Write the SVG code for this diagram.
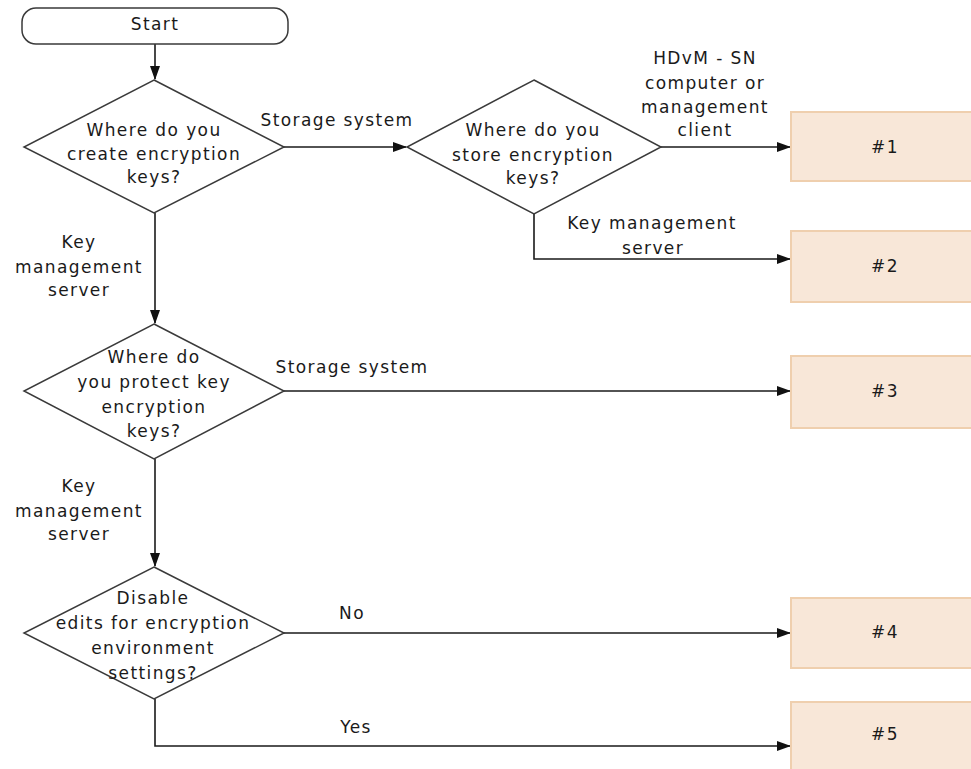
<svg xmlns="http://www.w3.org/2000/svg" width="971" height="769" viewBox="0 0 971 769">
<style>
text{font-family:"DejaVu Sans","Liberation Sans",sans-serif;font-size:17px;letter-spacing:1.4px;fill:#1a1a1a;text-anchor:middle}
.shape{fill:#fff;stroke:#3a3a3a;stroke-width:1.5}
.box{fill:#F8E7D8;stroke:#EFCFAE;stroke-width:2}
.conn{fill:none;stroke:#1a1a1a;stroke-width:1.6}
</style>
<defs>
<marker id="arr" markerUnits="userSpaceOnUse" markerWidth="14" markerHeight="10" refX="13" refY="5" orient="auto">
<path d="M0,0 L14,5 L0,10 Z" fill="#111"/>
</marker>
</defs>
<rect width="971" height="769" fill="#fff"/>
<g id="connectors">
<line class="conn" x1="155" y1="44" x2="155" y2="79" marker-end="url(#arr)"/>
<line class="conn" x1="284" y1="147" x2="406" y2="147" marker-end="url(#arr)"/>
<line class="conn" x1="661" y1="147" x2="790" y2="147" marker-end="url(#arr)"/>
<polyline class="conn" points="534,214 534,259 790,259" marker-end="url(#arr)"/>
<line class="conn" x1="155" y1="213" x2="155" y2="323" marker-end="url(#arr)"/>
<line class="conn" x1="284" y1="391" x2="790" y2="391" marker-end="url(#arr)"/>
<line class="conn" x1="155" y1="459" x2="155" y2="566" marker-end="url(#arr)"/>
<line class="conn" x1="284" y1="633" x2="790" y2="633" marker-end="url(#arr)"/>
<polyline class="conn" points="155,699 155,746 790,746" marker-end="url(#arr)"/>
<text x="337" y="126">Storage system</text>
<text x="705" y="64">HDvM - SN</text>
<text x="705" y="89">computer or</text>
<text x="705" y="113">management</text>
<text x="705" y="136">client</text>
<text x="652" y="229">Key management</text>
<text x="653" y="254">server</text>
<text x="79" y="248">Key</text>
<text x="79" y="273">management</text>
<text x="79" y="296">server</text>
<text x="352" y="373">Storage system</text>
<text x="79" y="492">Key</text>
<text x="79" y="517">management</text>
<text x="79" y="540">server</text>
<text x="352" y="619">No</text>
<text x="356" y="733">Yes</text>
</g>
<g id="start">
<rect class="shape" x="22" y="8" width="266" height="36" rx="14"/>
<text x="155" y="30">Start</text>
</g>
<g id="q1">
<polygon class="shape" points="154,80 284,147 154,213 24,147"/>
<text x="154" y="136">Where do you</text>
<text x="154" y="160">create encryption</text>
<text x="154" y="183">keys?</text>
</g>
<g id="q2">
<polygon class="shape" points="534,80 661,147 534,214 407,147"/>
<text x="533" y="136">Where do you</text>
<text x="533" y="161">store encryption</text>
<text x="533" y="184">keys?</text>
</g>
<g id="q3">
<polygon class="shape" points="154,324 284,391 154,459 24,391"/>
<text x="154" y="363">Where do</text>
<text x="154" y="388">you protect key</text>
<text x="154" y="413">encryption</text>
<text x="154" y="437">keys?</text>
</g>
<g id="q4">
<polygon class="shape" points="154,567 284,633 154,699 24,633"/>
<text x="153" y="604">Disable</text>
<text x="153" y="629">edits for encryption</text>
<text x="153" y="654">environment</text>
<text x="153" y="679">settings?</text>
</g>
<g id="r1"><rect class="box" x="791" y="112" width="190" height="69"/><text x="885" y="153">#1</text></g>
<g id="r2"><rect class="box" x="791" y="231" width="190" height="71"/><text x="885" y="272">#2</text></g>
<g id="r3"><rect class="box" x="791" y="356" width="190" height="72"/><text x="885" y="397">#3</text></g>
<g id="r4"><rect class="box" x="791" y="598" width="190" height="70"/><text x="885" y="638">#4</text></g>
<g id="r5"><rect class="box" x="791" y="702" width="190" height="80"/><text x="885" y="740">#5</text></g>
</svg>
